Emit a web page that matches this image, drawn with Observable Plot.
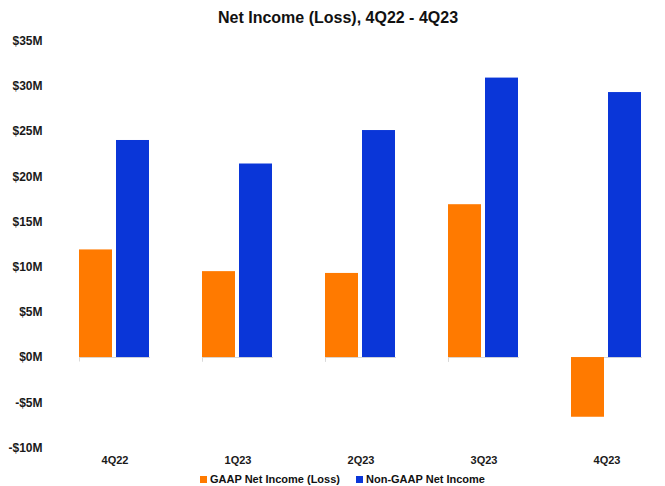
<!DOCTYPE html>
<html>
<head>
<meta charset="utf-8">
<script src="https://cdn.jsdelivr.net/npm/d3@7"></script>
<script src="https://cdn.jsdelivr.net/npm/@observablehq/plot@0.6"></script>
<style>
  html, body { margin: 0; padding: 0; background: #fff; }
  body { width: 665px; height: 486px; overflow: hidden; font-family: "Liberation Sans", Arial, sans-serif; }
  #title { padding-top: 8px; height: 20px; line-height: 20px; text-align: center; font-weight: bold; font-size: 16px; color: #111; padding-left: 11px; }
  #legend { display: flex; justify-content: center; align-items: center; height: 14px; line-height: 14px; font-size: 11px; font-weight: bold; color: #111; padding-left: 20px; }
  .item { display: flex; align-items: center; margin: 0 8px; }
  .sw { width: 7px; height: 7px; margin-right: 3px; display: inline-block; }
</style>
</head>
<body>
<div id="title">Net Income (Loss), 4Q22 - 4Q23</div>
<div id="chart"></div>
<div id="legend"></div>
<script>
const quarters = ["4Q22", "1Q23", "2Q23", "3Q23", "4Q23"];
const gaap = [11.9, 9.5, 9.3, 16.9, -6.6];
const nonGaap = [24.0, 21.4, 25.1, 30.9, 29.3];
const seriesNames = ["GAAP Net Income (Loss)", "Non-GAAP Net Income"];
const seriesColors = ["#ff7a00", "#0a36d8"];
const yTicks = [-10, -5, 0, 5, 10, 15, 20, 25, 30, 35];

const data = quarters.flatMap((q, i) => [
  {quarter: q, series: seriesNames[0], value: gaap[i]},
  {quarter: q, series: seriesNames[1], value: nonGaap[i]}
]);

const fmt = d => d < 0 ? `-$${-d}M` : `$${d}M`;

function zeroLine(index, scales, values, dims) {
  const {fx, y} = scales;
  const g = d3.create("svg:g");
  const y0 = Math.round(y(0)) + 0.5;
  g.append("line")
    .attr("x1", dims.marginLeft).attr("x2", dims.width - dims.marginRight)
    .attr("y1", y0).attr("y2", y0)
    .attr("stroke", "#d9d9d9").attr("stroke-width", 1);
  if (fx && fx.step) {
    const step = fx.step(), bw = fx.bandwidth();
    quarters.forEach(q => {
      const xb = Math.round(fx(q) - (step - bw) / 2) + 0.5;
      g.append("line")
        .attr("x1", xb).attr("x2", xb)
        .attr("y1", y0).attr("y2", y0 + 4)
        .attr("stroke", "#d9d9d9");
    });
  }
  return g.node();
}

const chart = Plot.plot({
  width: 665,
  height: 444,
  marginLeft: 53,
  marginRight: 0,
  marginTop: 12.5,
  marginBottom: 24.5,
  style: {fontFamily: "'Liberation Sans', Arial, sans-serif", fontWeight: "bold", color: "#1a1a1a", background: "#fff"},
  fx: {domain: quarters, range: [53, 668], paddingInner: 0.423, paddingOuter: 0.2115, label: null},
  x: {domain: seriesNames, paddingInner: 0.1, paddingOuter: 0, axis: null},
  y: {domain: [-10, 35], label: null},
  color: {domain: seriesNames, range: seriesColors},
  marks: [
    zeroLine,
    Plot.barY(data, {fx: "quarter", x: "series", y: "value", fill: "series"}),
    Plot.axisY({ticks: yTicks, tickFormat: fmt, tickSize: 0, tickPadding: 37, fontSize: 12, label: null}),
    Plot.axisFx({anchor: "bottom", tickSize: 0, tickPadding: 8, fontSize: 11, label: null})
  ]
});
document.getElementById("chart").appendChild(chart);

const legend = document.getElementById("legend");
seriesNames.forEach((name, i) => {
  const item = document.createElement("span");
  item.className = "item";
  const sw = document.createElement("span");
  sw.className = "sw";
  sw.style.background = seriesColors[i];
  item.appendChild(sw);
  item.appendChild(document.createTextNode(name));
  legend.appendChild(item);
});
</script>
</body>
</html>
